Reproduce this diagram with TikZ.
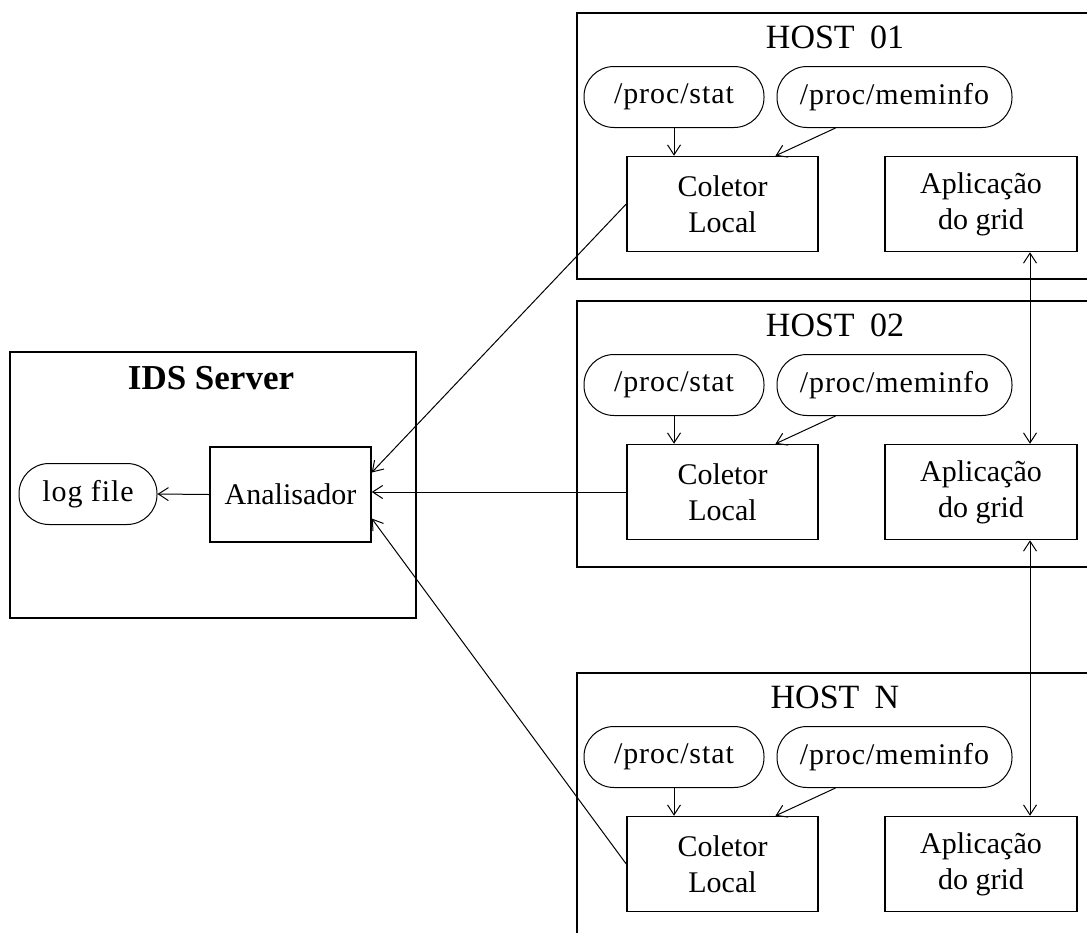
\documentclass[tikz,border=0pt]{standalone}
\usepackage{fontspec}
\setmainfont{Liberation Serif}
\usetikzlibrary{arrows.meta,calc}
\begin{document}
\begin{tikzpicture}[x=1pt,y=1pt,
  frame/.style={draw, line width=1.7pt, anchor=north west, inner sep=0pt},
  box/.style={draw, line width=1.5pt, minimum width=191pt, minimum height=95pt,
    align=center, inner sep=0pt, font=\fontsize{30}{36}\selectfont},
  oval/.style={draw, line width=1pt, rounded corners=30pt, minimum height=61pt,
    inner sep=0pt, font=\fontsize{30}{36}\selectfont\addfontfeatures{LetterSpace=3}},
  title/.style={font=\fontsize{34}{40}\selectfont},
  tip/.tip={Straight Barb[length=10pt,width=13pt]},
  flow/.style={line width=1pt, -tip},
  both/.style={line width=1pt, tip-tip},
]
\useasboundingbox (0,0) rectangle (1087,-932);
\clip (0,0) rectangle (1087,-932);
\fill[white] (0,0) rectangle (1087,-932);

% IDS server
\node[frame, minimum width=406pt, minimum height=266pt] (ids) at (9,-351) {};
\node[font=\fontsize{35}{40}\selectfont\bfseries] (idst) at (211,-378) {IDS Server};
\node[oval, minimum width=138pt] (log) at (88,-494) {log file};
\node[box, minimum width=161pt] (ana) at (290.5,-494.5) {Analisador};
\draw[flow] (ana.west) -- (log.east);

% hosts
\foreach \id/\top/\name in {1/12/HOST\hspace{0.45em}01, 2/300/HOST\hspace{0.45em}02, N/672/HOST\hspace{0.45em}N}{
  \node[frame, minimum width=560pt, minimum height=266pt] (host\id) at (576,-\top) {};
  \node[title] (title\id) at (835,{-\top-25}) {\name};
  \node[oval, minimum width=180pt] (stat\id) at (674,{-\top-85}) {/proc/stat};
  \node[oval, minimum width=235pt] (mem\id) at (894.5,{-\top-85}) {/proc/meminfo};
  \node[box] (col\id) at (722.5,{-\top-192}) {Coletor\\Local};
  \node[box, minimum width=192pt] (app\id) at (981,{-\top-192}) {Aplicação\\do grid};
  \draw[flow] (stat\id.south) -- (stat\id.south |- col\id.north);
  \draw[flow] ($(mem\id.south)+(-59,0)$) -- ($(col\id.north)+(53,0)$);
}

% collectors to analyser
\draw[flow] (col1.west) -- ($(ana.east)+(0,22)$);
\draw[flow] (col2.west) -- (col2.west -| ana.east);
\draw[flow] (colN.west) -- ($(ana.east)+(0,-24)$);

% grid applications
\draw[both] ($(app1.south)+(49,0)$) -- ($(app2.north)+(49,0)$);
\draw[both] ($(app2.south)+(49,0)$) -- ($(appN.north)+(49,0)$);
\end{tikzpicture}
\end{document}
